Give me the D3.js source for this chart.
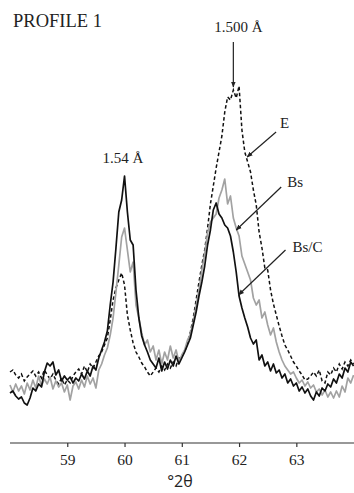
<!DOCTYPE html>
<html>
<head>
<meta charset="utf-8">
<script src="https://cdn.jsdelivr.net/npm/d3@7"></script>
<style>
  html, body { margin: 0; padding: 0; background: #fff; }
  svg { display: block; }
</style>
</head>
<body>
<svg id="chart" width="354" height="493"></svg>
<script>
// Diffraction profile 1: 2θ scan from 58° to 64° in 0.05° steps
const twoThetaStart = 58.0;
const twoThetaStep = 0.05;
const xTicks = [59, 60, 61, 62, 63];

// Intensities (arbitrary units) for each sample
const intensityE = [
  71,73,68,65,69,62,66,69,72,67,71,65,73,68,64,69,63,59,65,58,
  63,60,67,71,74,69,77,71,79,75,81,87,91,98,105,123,143,155,163,170,
  158,128,113,100,91,86,80,76,71,67,71,75,71,77,73,79,75,81,77,85,
  87,91,100,111,125,143,161,178,193,215,239,257,275,291,307,331,346,343,353,345,
  357,313,291,281,271,253,238,211,195,175,173,153,139,128,117,107,98,93,87,81,
  77,72,68,63,64,67,71,67,73,62,60,71,68,75,71,79,74,81,77,83,
  79
];
const intensityBs = [
  58,51,59,52,57,49,60,53,63,55,67,57,64,59,66,54,62,56,60,51,
  58,43,57,61,54,63,56,67,59,65,55,73,79,88,95,108,125,151,178,206,
  215,193,171,181,138,125,110,98,103,91,97,83,93,79,91,83,97,85,93,81,
  88,93,103,109,121,137,153,173,189,210,221,225,229,245,253,264,239,247,225,215,
  207,187,179,171,163,145,138,143,125,131,118,108,115,101,91,83,77,73,69,71,
  65,60,63,57,61,55,58,51,54,48,53,46,51,45,52,46,57,51,65,60,
  68
];
const intensityBsC = [
  50,52,47,44,46,40,38,45,55,52,59,56,71,80,77,81,68,73,62,67,
  63,66,60,65,62,69,64,72,67,77,73,85,93,101,112,138,161,195,231,243,
  267,231,203,198,153,125,107,98,91,83,79,75,85,72,81,74,83,77,87,79,
  85,91,98,105,118,131,147,161,177,198,213,233,240,229,225,218,215,207,191,171,
  147,135,125,116,105,99,103,83,88,77,81,72,79,70,73,65,69,60,64,57,
  60,52,56,50,54,47,43,51,47,55,52,59,56,64,60,69,65,75,71,81,
  77
];

// Peak and series annotations: [label, 2θ, intensity]
const peakLabels = [
  ["1.54 Å", 59.97, 280]
];
const seriesCallouts = [
  // label, arrow tip (2θ, intensity)
  ["1.500 Å", 61.90, 356],
  ["E", 62.14, 286],
  ["Bs", 61.95, 213],
  ["Bs/C", 61.99, 148]
];

const svg = d3.select("#chart");
const W = 354, H = 493;
const axisY = 443;

const x = d3.scaleLinear().domain([58, 64]).range([10, 353.6]);
const y = d3.scaleLinear().domain([0, 400]).range([axisY, 43]);

const toPoints = arr => arr.map((v, i) => [twoThetaStart + i * twoThetaStep, v]);

const line = d3.line()
  .x(d => x(d[0]))
  .y(d => y(d[1]))
  .curve(d3.curveLinear);

const serif = "'Liberation Serif', 'Times New Roman', serif";
const ink = "#222";

// Spectra
svg.append("path")
  .datum(toPoints(intensityE))
  .attr("d", line)
  .attr("fill", "none")
  .attr("stroke", "#111")
  .attr("stroke-width", 1.5)
  .attr("stroke-dasharray", "3.5,2.5");

svg.append("path")
  .datum(toPoints(intensityBs))
  .attr("d", line)
  .attr("fill", "none")
  .attr("stroke", "#a2a2a2")
  .attr("stroke-width", 1.7)
  .attr("stroke-linejoin", "round");

svg.append("path")
  .datum(toPoints(intensityBsC))
  .attr("d", line)
  .attr("fill", "none")
  .attr("stroke", "#111")
  .attr("stroke-width", 1.7)
  .attr("stroke-linejoin", "round");

// X axis
const xAxis = d3.axisBottom(x)
  .tickValues(xTicks)
  .tickSize(4)
  .tickSizeOuter(0)
  .tickPadding(7)
  .tickFormat(d3.format("d"));

const gAxis = svg.append("g")
  .attr("transform", `translate(0,${axisY})`)
  .call(xAxis);
gAxis.select(".domain").attr("d", `M10,0H${W}`).attr("stroke", "#333").attr("stroke-width", 1.2);
gAxis.selectAll(".tick line").attr("stroke", "#333").attr("stroke-width", 1.2);
gAxis.selectAll(".tick text")
  .attr("fill", ink)
  .style("font-family", serif)
  .style("font-size", "15.5px");

// Axis title
svg.append("text")
  .attr("x", 180)
  .attr("y", 487)
  .attr("text-anchor", "middle")
  .attr("fill", ink)
  .style("font-family", "'Open Sans', sans-serif")
  .style("font-size", "16px")
  .text("°2θ");

// Panel title
svg.append("text")
  .attr("x", 13)
  .attr("y", 27)
  .attr("fill", ink)
  .style("font-family", serif)
  .style("font-size", "18.5px")
  .text("PROFILE 1");

// Peak label without arrow
peakLabels.forEach(([txt, t, v]) => {
  svg.append("text")
    .attr("x", x(t))
    .attr("y", y(v))
    .attr("text-anchor", "middle")
    .attr("fill", ink)
    .style("font-family", serif)
    .style("font-size", "15px")
    .text(txt);
});

// Arrowhead marker
svg.append("defs").append("marker")
  .attr("id", "head")
  .attr("viewBox", "0 0 10 10")
  .attr("refX", 9).attr("refY", 5)
  .attr("markerWidth", 6).attr("markerHeight", 6)
  .attr("markerUnits", "userSpaceOnUse")
  .attr("orient", "auto")
  .append("path")
  .attr("d", "M0,1 L10,5 L0,9 Z")
  .attr("fill", ink);

// Callouts: label position and arrow tail relative to the arrow tip
const calloutLayout = {
  "1.500 Å": { tail: [0, -45], text: [5, -55], anchor: "middle" },
  "E":       { tail: [29, -25], text: [33, -29], anchor: "start" },
  "Bs":      { tail: [45, -43], text: [51, -43], anchor: "start" },
  "Bs/C":    { tail: [47, -45], text: [54, -43], anchor: "start" }
};

seriesCallouts.forEach(([txt, t, v]) => {
  const tx = x(t), ty = y(v);
  const L = calloutLayout[txt];
  svg.append("line")
    .attr("x1", tx + L.tail[0]).attr("y1", ty + L.tail[1])
    .attr("x2", tx).attr("y2", ty)
    .attr("stroke", ink)
    .attr("stroke-width", 1.2)
    .attr("marker-end", "url(#head)");
  svg.append("text")
    .attr("x", tx + L.text[0])
    .attr("y", ty + L.text[1])
    .attr("text-anchor", L.anchor)
    .attr("fill", ink)
    .style("font-family", serif)
    .style("font-size", "15px")
    .text(txt);
});
</script>
</body>
</html>
